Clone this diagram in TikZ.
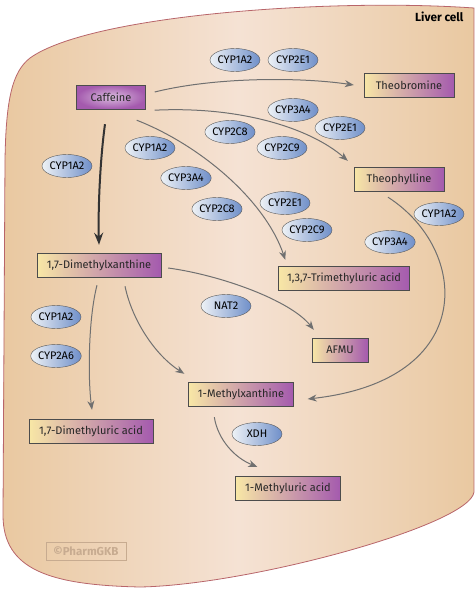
\documentclass[tikz,border=0pt]{standalone}
\usepackage{fontspec}
\setmainfont{Fira Sans}
\usetikzlibrary{positioning,arrows.meta,shapes.geometric}
\definecolor{pkTan}{HTML}{E4BD8A}
\definecolor{pkTanEdge}{HTML}{E8C597}
\definecolor{pkLight}{HTML}{F5E2D4}
\definecolor{pkRim}{HTML}{B8656A}
\definecolor{pkYellow}{HTML}{F8E7A6}
\definecolor{pkPurple}{HTML}{A45AAE}
\definecolor{pkBlue}{HTML}{6F8FC9}
\definecolor{pkPale}{HTML}{EEF2F6}
\definecolor{pkArrow}{HTML}{707070}
\definecolor{pkMark}{HTML}{C7AB90}
\pgfdeclarehorizontalshading{cellshade}{100bp}{color(0bp)=(pkTanEdge); color(14bp)=(pkTan); color(50bp)=(pkLight); color(86bp)=(pkTan); color(100bp)=(pkTanEdge)}
\tikzset{
  metab/.style={draw=black!70, left color=pkYellow, right color=pkPurple,
    minimum height=24pt, inner sep=0pt, text=black!85,
    font=\fontsize{11}{12}\selectfont},
  enz/.style={ellipse, draw=black!65, left color=pkPale, right color=pkBlue,
    minimum width=50pt, minimum height=23pt, inner sep=0pt,
    font=\fontsize{11}{12}\selectfont},
  flow/.style={draw=pkArrow, line width=1pt, -{Stealth[length=9pt,width=7pt]}},
  mainflow/.style={draw=black!80, line width=2pt, -{Stealth[length=12pt,width=9pt]}}
}

\begin{document}
\begin{tikzpicture}[x=1pt,y=-1pt]
  \useasboundingbox (0,0) rectangle (476,589);
  \path[draw=pkRim, line width=0.8pt, shading=cellshade]
    (3,515) .. controls (3,570) and (50,585) .. (140,587)
    .. controls (250,585) and (470,525) .. (474,492) -- (474,8)
    .. controls (330,-2) and (90,15) .. (30,58)
    .. controls (12,72) and (6,100) .. (5,160) -- cycle;
  \node[anchor=east, font=\bfseries\fontsize{11.8}{13}\selectfont] (cell) at (467,17) {Liver cell};
  \node[draw=pkMark, text=pkMark, line width=0.8pt, minimum width=80pt, minimum height=18pt,
    inner sep=0pt, font=\bfseries\fontsize{11.5}{12}\selectfont] (mark) at (86,551) {©PharmGKB};

  \node[metab, minimum width=69pt, inner color=pkPurple!40!white, outer color=pkPurple] (caf) at (111,97) {Caffeine};
  \node[metab, minimum width=90pt] (theob) at (409,85) {Theobromine};
  \node[metab, minimum width=90pt] (theoph) at (399,179) {Theophylline};
  \node[metab, minimum width=124pt] (dmx) at (99,265) {1,7-Dimethylxanthine};
  \node[metab, minimum width=131pt] (tmu) at (344,278) {1,3,7-Trimethyluric acid};
  \node[metab, minimum width=56pt] (afmu) at (340,350) {AFMU};
  \node[metab, minimum width=105pt] (mx) at (241,394) {1-Methylxanthine};
  \node[metab, minimum width=124pt] (dmu) at (91,431) {1,7-Dimethyluric acid};
  \node[metab, minimum width=105pt] (mu) at (288,488) {1-Methyluric acid};

  \node[enz] (tbA) at (235,60) {CYP1A2};
  \node[enz] (tbB) at (293,60) {CYP2E1};
  \node[enz] (tpA) at (293,110) {CYP3A4};
  \node[enz] (tpB) at (340,128) {CYP2E1};
  \node[enz] (tpC) at (230,132) {CYP2C8};
  \node[enz] (tpD) at (282,148) {CYP2C9};
  \node[enz] (tmA) at (150,148) {CYP1A2};
  \node[enz] (tmB) at (186,178) {CYP3A4};
  \node[enz] (tmC) at (217,209) {CYP2C8};
  \node[enz] (tmD) at (285,203) {CYP2E1};
  \node[enz] (tmE) at (307,230) {CYP2C9};
  \node[enz] (pxA) at (67,166) {CYP1A2};
  \node[enz] (mxA) at (439,214) {CYP1A2};
  \node[enz] (mxB) at (390,242) {CYP3A4};
  \node[enz] (afA) at (226,306) {NAT2};
  \node[enz] (duA) at (56,317) {CYP1A2};
  \node[enz] (duB) at (56,356) {CYP2A6};
  \node[enz] (muA) at (257,434) {XDH};

  \draw[flow] ([xshift=9pt,yshift=5pt]caf.east) .. controls (215,77) and (300,77) .. ([xshift=-10pt]theob.west);
  \draw[flow] ([xshift=9pt,yshift=-1pt]caf.south east) .. controls (240,106) and (310,128) .. ([xshift=-6pt,yshift=6pt]theoph.north west);
  \draw[flow] ([xshift=-9pt,yshift=-11pt]caf.south east) .. controls (200,145) and (265,200) .. ([xshift=7pt,yshift=6pt]tmu.north west);
  \draw[mainflow] ([xshift=-6pt,yshift=-15pt]caf.south) .. controls (100,160) and (98,210) .. ([yshift=8pt]dmx.north);
  \draw[flow] ([xshift=-11pt,yshift=-6pt]theoph.south) .. controls (470,250) and (478,380) .. ([xshift=14pt,yshift=-5pt]mx.east);
  \draw[flow] ([xshift=7pt,yshift=-3pt]dmx.east) .. controls (220,275) and (290,300) .. ([xshift=2pt,yshift=8pt]afmu.north west);
  \draw[flow] ([xshift=26pt,yshift=-9pt]dmx.south) .. controls (132,320) and (155,355) .. ([xshift=-4pt,yshift=8pt]mx.north west);
  \draw[flow] ([xshift=-2pt,yshift=-8pt]dmx.south) .. controls (88,320) and (88,380) .. ([xshift=1pt,yshift=9pt]dmu.north);
  \draw[flow] ([xshift=26pt,yshift=-11pt]mx.south west) .. controls (218,440) and (235,458) .. ([xshift=22pt,yshift=9pt]mu.north west);
\end{tikzpicture}
\end{document}
